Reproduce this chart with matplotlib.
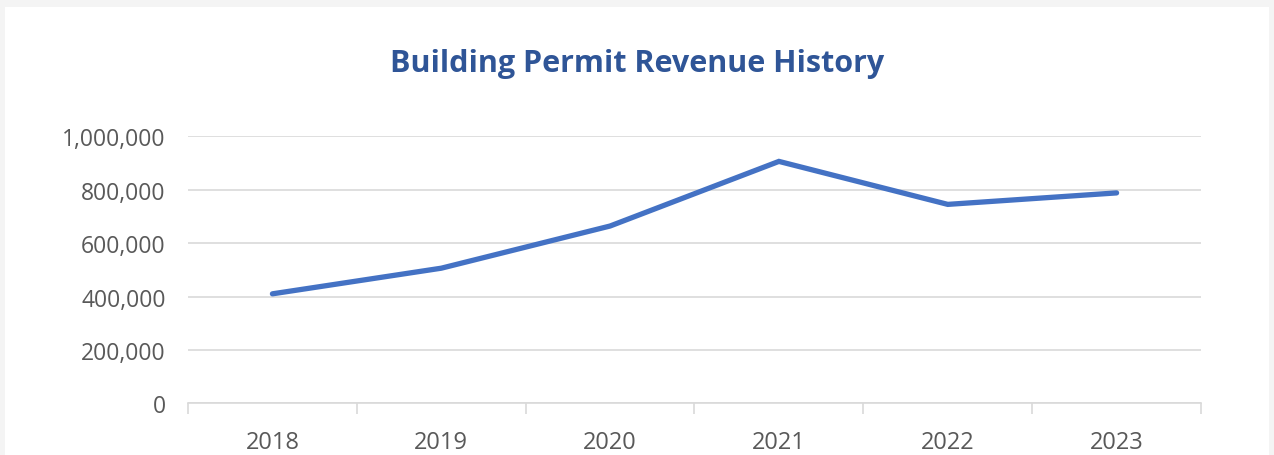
import matplotlib.pyplot as plt
from matplotlib.patches import Rectangle
from matplotlib.ticker import FuncFormatter, MultipleLocator

years = ['2018', '2019', '2020', '2021', '2022', '2023']
revenue = [410000, 506000, 664000, 906000, 745000, 788000]

plt.rcParams['font.family'] = ['Open Sans', 'DejaVu Sans']

W, H = 1274, 456
fig = plt.figure(figsize=(W / 100, H / 100), dpi=100)
fig.patch.set_facecolor('#f4f4f4')
# white card behind the chart
fig.patches.append(Rectangle((5 / W, 0), 1264 / W, 1 - 8 / H, transform=fig.transFigure,
                             facecolor='white', edgecolor='none', zorder=-5))

ax = fig.add_axes([188 / W, 1 - 404.3 / H, (1201 - 188) / W, (404.3 - 137.3) / H])
ax.set_facecolor('none')
ax.set_zorder(2)

x = list(range(len(years)))
ax.plot(x, revenue, color='#4472C4', linewidth=3.8, solid_capstyle='round',
        solid_joinstyle='miter', zorder=3)

ax.set_xlim(-0.5, len(years) - 0.5)
ax.set_ylim(0, 1000000)
ax.yaxis.set_major_locator(MultipleLocator(200000))
ax.yaxis.set_major_formatter(FuncFormatter(lambda v, p: f'{int(v):,}'))
ax.grid(axis='y', color='#d9d9d9', linewidth=1.2)
ax.set_axisbelow(True)

for s in ['top', 'right', 'left']:
    ax.spines[s].set_visible(False)
ax.spines['bottom'].set_color('#d9d9d9')
ax.spines['bottom'].set_linewidth(1.2)

# category labels centred, tick marks at category borders
ax.set_xticks(x)
ax.set_xticklabels(years)
ax.tick_params(axis='x', which='major', length=0, pad=19, labelsize=17, labelcolor='#595959')
ax.set_xticks([i - 0.5 for i in range(len(years) + 1)], minor=True)
ax.tick_params(axis='x', which='minor', length=8, width=1.2, color='#d9d9d9')
ax.tick_params(axis='y', length=0, pad=16, labelsize=16.5, labelcolor='#595959')

fig.text(637 / W, 1 - 64 / H, 'Building Permit Revenue History', ha='center', va='center',
         fontsize=22, fontweight='bold', color='#2F5597')

fig.savefig('out.png', dpi=100, facecolor=fig.get_facecolor())
